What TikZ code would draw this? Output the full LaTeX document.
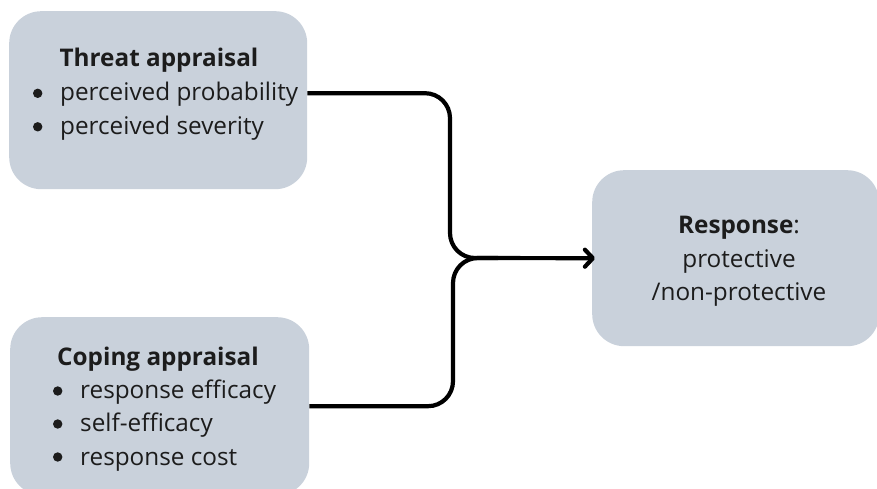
\documentclass[tikz,border=0pt]{standalone}
\usepackage{fontspec}
\setmainfont{Open Sans}
\usetikzlibrary{arrows.meta,calc}
\definecolor{boxfill}{HTML}{C9D1DB}
\definecolor{ink}{HTML}{1C1C1C}
\begin{document}
\begin{tikzpicture}[x=1pt,y=-1pt,
  panel/.style={fill=boxfill, draw=none, rounded corners=32pt, inner sep=0pt, anchor=north west},
  txt/.style={inner sep=0pt, text=ink, font=\fontsize{24.3}{34}\selectfont},
  dot/.style={circle, fill=ink, draw=none, inner sep=0pt, minimum size=9.4pt},
  conn/.style={draw=black, line width=4.2pt, rounded corners=25pt},
  tip/.style={-{Straight Barb[length=8pt,width=17pt,round]}},
]
\useasboundingbox (0,0) rectangle (877,489);
\clip (0,0) rectangle (877,489);

% panels
\node[panel, minimum width=298pt, minimum height=178pt] (threat) at (9,11) {};
\node[panel, minimum width=299pt, minimum height=178pt] (coping) at (10,317) {};
\node[panel, minimum width=287pt, minimum height=176pt] (response) at (592,170) {};

% threat appraisal text
\node[txt, anchor=base] (tt) at (159,67) {\textbf{Threat appraisal}};
\node[dot] (tb1) at (37.7,93.3) {};
\node[txt, anchor=base west] (tp1) at (60,101) {perceived probability};
\node[dot] (tb2) at (37.7,126.8) {};
\node[txt, anchor=base west] (tp2) at (60,134.5) {perceived severity};

% coping appraisal text
\node[txt, anchor=base] (ct) at (158,365) {\textbf{Coping appraisal}};
\node[dot] (cb1) at (57.7,391) {};
\node[txt, anchor=base west] (cp1) at (80,398.5) {response efficacy};
\node[dot] (cb2) at (57.7,424) {};
\node[txt, anchor=base west] (cp2) at (80,431.5) {self-efficacy};
\node[dot] (cb3) at (57.7,457) {};
\node[txt, anchor=base west] (cp3) at (80,465) {response cost};

% response text
\node[txt, anchor=base] (rt) at (739,233) {\textbf{Response}:};
\node[txt, anchor=base] (r1) at (739,267) {protective};
\node[txt, anchor=base] (r2) at (739,300.5) {/non-protective};

% merging connectors
\coordinate (mtop) at (450,258);
\coordinate (mbot) at (453,258);
\draw[conn] (coping.east) -| (mbot) -- ($(mbot)+(45,0)$);
\draw[conn, tip, shorten >=-3pt] ($(threat.east)+(0,-7)$) -| (mtop) -- (response.west);
\end{tikzpicture}
\end{document}
